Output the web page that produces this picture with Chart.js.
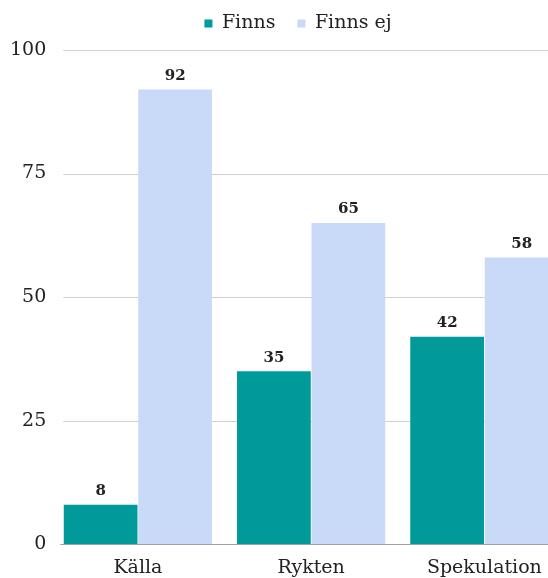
<!DOCTYPE html>
<html><head><meta charset="utf-8">
<script src="https://cdn.jsdelivr.net/npm/chart.js@4"></script>
<style>html,body{margin:0;padding:0;background:#fff;overflow:hidden;}#wrap{width:548px;height:578px;overflow:hidden;}</style>
</head><body><div id="wrap"><canvas id="c" width="571" height="591"></canvas></div>
<script>
const categories = ['Källa', 'Rykten', 'Spekulation'];
const finns = [8, 35, 42];
const finnsEj = [92, 65, 58];
const seriesNames = ['Finns', 'Finns ej'];
const yTicks = [0, 25, 50, 75, 100];
const FONT = "'DejaVu Serif', serif";
const GRID_INSET = 12;
const LEGEND_SHIFT = 10;

const legendSpace = {
  id: 'legendSpace',
  beforeInit(chart) {
    const lg = chart.legend;
    const origFit = lg.fit;
    lg.fit = function () { origFit.call(this); this.height += 7; };
    const origDraw = lg.draw;
    lg.draw = function () {
      const ctx = this.ctx;
      ctx.save(); ctx.translate(LEGEND_SHIFT, 0);
      origDraw.call(this);
      ctx.restore();
    };
  }
};

const gridPlugin = {
  id: 'customGrid',
  beforeDatasetsDraw(chart) {
    const ctx = chart.ctx, y = chart.scales.y, a = chart.chartArea;
    ctx.save();
    ctx.strokeStyle = '#d0d0d0';
    ctx.lineWidth = 1;
    yTicks.forEach(v => {
      if (v === 0) return;
      const py = Math.round(y.getPixelForValue(v)) + 0.5;
      ctx.beginPath(); ctx.moveTo(a.left + GRID_INSET, py); ctx.lineTo(chart.width, py); ctx.stroke();
    });
    ctx.restore();
  },
  afterDatasetsDraw(chart) {
    const ctx = chart.ctx, y = chart.scales.y, a = chart.chartArea;
    ctx.save();
    ctx.strokeStyle = '#a0a0a0';
    ctx.lineWidth = 1;
    const py = Math.round(y.getPixelForValue(0)) + 0.5;
    ctx.beginPath(); ctx.moveTo(a.left + GRID_INSET - 3, py); ctx.lineTo(chart.width, py); ctx.stroke();
    ctx.font = "bold 15px " + FONT;
    ctx.fillStyle = '#222';
    ctx.textAlign = 'center';
    ctx.textBaseline = 'bottom';
    chart.data.datasets.forEach((ds, i) => {
      chart.getDatasetMeta(i).data.forEach((bar, j) => {
        ctx.fillText(String(ds.data[j]), bar.x, bar.y - 6);
      });
    });
    ctx.restore();
  }
};

new Chart(document.getElementById('c'), {
  type: 'bar',
  data: {
    labels: categories,
    datasets: [
      { label: seriesNames[0], data: finns, backgroundColor: '#009a9a', borderWidth: 0 },
      { label: seriesNames[1], data: finnsEj, backgroundColor: '#c9daf8', borderWidth: 0 }
    ]
  },
  options: {
    responsive: false,
    animation: false,
    layout: { padding: { top: -8, right: 0, left: 5, bottom: 0 } },
    datasets: { bar: { barPercentage: 0.99, categoryPercentage: 0.86 } },
    plugins: {
      legend: {
        position: 'top',
        labels: { usePointStyle: true, pointStyle: 'rect', boxWidth: 8, boxHeight: 8, padding: 22,
          color: '#222', font: { family: FONT, size: 19 } }
      },
      tooltip: { enabled: false }
    },
    scales: {
      x: {
        grid: { display: false, drawTicks: false },
        border: { display: false },
        ticks: { color: '#222', font: { family: FONT, size: 19 }, padding: 12 }
      },
      y: {
        min: 0, max: 100,
        afterBuildTicks(scale) { scale.ticks = yTicks.map(v => ({ value: v })); },
        grid: { display: false, drawTicks: false },
        border: { display: false },
        ticks: { color: '#222', font: { family: FONT, size: 19 }, padding: 5 }
      }
    }
  },
  plugins: [legendSpace, gridPlugin]
});
</script></body></html>
